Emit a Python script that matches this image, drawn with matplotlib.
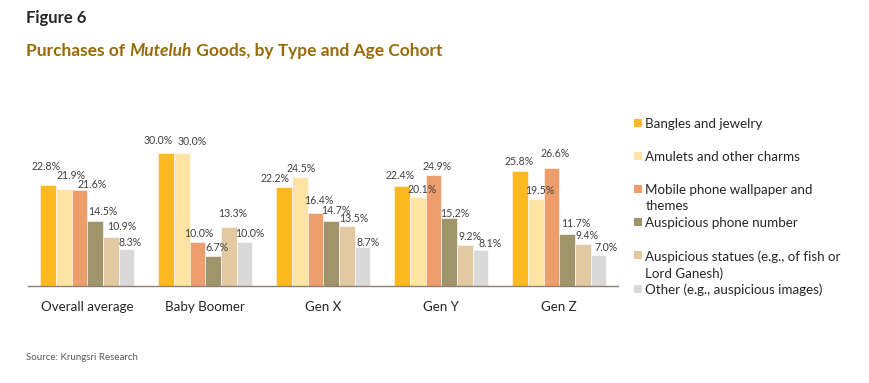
import matplotlib
matplotlib.use("Agg")
import matplotlib.pyplot as plt
from matplotlib.patches import Rectangle
import numpy as np

plt.rcParams['font.family'] = ['Lato', 'DejaVu Sans']

# ---------------- data ----------------
cohorts = ["Overall average", "Baby Boomer", "Gen X", "Gen Y", "Gen Z"]
series_names = [
    "Bangles and jewelry",
    "Amulets and other charms",
    "Mobile phone wallpaper and\nthemes",
    "Auspicious phone number",
    "Auspicious statues (e.g., of fish or\nLord Ganesh)",
    "Other (e.g., auspicious images)",
]
bangles    = [22.8, 30.0, 22.2, 22.4, 25.8]
amulets    = [21.9, 30.0, 24.5, 20.1, 19.5]
wallpaper  = [21.6, 10.0, 16.4, 24.9, 26.6]
phone_num  = [14.5, 6.7, 14.7, 15.2, 11.7]
statues    = [10.9, 13.3, 13.5, 9.2, 9.4]
other      = [8.3, 10.0, 8.7, 8.1, 7.0]
series_values = [bangles, amulets, wallpaper, phone_num, statues, other]

colors = ["#FDBA1E", "#FEE4A4", "#EE9E6C", "#A0956A", "#E2C9A2", "#D9D9D9"]

# label nudges (pixels: dx, dy of label centre above bar top), per series x cohort
label_dx = [
    [-2.3, -7.9, -9.5, -2.2, -0.4],
    [7.2, 10.7, 1.5, 4.8, 3.7],
    [12.6, 1.8, 3.2, 3.5, 3.8],
    [7.5, 4.1, 5.2, 5.5, 9.0],
    [11.2, 3.9, 7.1, 5.3, 3.9],
    [3.8, 5.5, 5.4, 9.4, 7.3],
]
label_dy = [
    [17.7, 11.6, 8.4, 11.0, 10.0],
    [12.6, 10.6, 8.7, 6.6, 8.3],
    [5.7, 8.0, 12.3, 9.0, 14.0],
    [9.7, 8.6, 10.3, 5.0, 10.7],
    [10.7, 13.7, 7.0, 8.3, 8.3],
    [6.3, 8.0, 4.3, 6.0, 7.0],
]

# ---------------- figure ----------------
W, H = 870, 383
fig = plt.figure(figsize=(W / 100, H / 100), dpi=100)

ax_left, ax_right = 28.3, 618.3
base_y = 286.0
px_per_pct = 4.45
ymax = 35
ax_h = ymax * px_per_pct
ax = fig.add_axes([ax_left / W, (H - base_y) / H, (ax_right - ax_left) / W, ax_h / H])

n = len(series_values)
x = np.arange(len(cohorts))
group_px = (ax_right - ax_left) / len(cohorts)
bar_w = 15.7 / group_px

for i, (vals, col) in enumerate(zip(series_values, colors)):
    offs = (i - (n - 1) / 2) * bar_w
    bars = ax.bar(x + offs, vals, width=bar_w, color=col, edgecolor="white",
                  linewidth=0.4, zorder=2)
    for j, b in enumerate(bars):
        ax.annotate(f"{vals[j]:.1f}%",
                    xy=(b.get_x() + b.get_width() / 2, b.get_height()),
                    xytext=(label_dx[i][j], label_dy[i][j]),
                    textcoords="offset pixels", ha="center", va="center",
                    fontsize=7.6, color="#404040")

ax.set_xlim(-0.5, len(cohorts) - 0.5)
ax.set_ylim(0, ymax)
ax.set_xticks(x)
ax.set_xticklabels(cohorts, fontsize=9.6, color="#262626")
ax.tick_params(axis="x", length=0, pad=10.5)
ax.set_yticks([])
for s in ["top", "right", "left"]:
    ax.spines[s].set_visible(False)
ax.spines["bottom"].set_color("#8C7F76")
ax.spines["bottom"].set_linewidth(1.0)
ax.patch.set_alpha(0)

# ---------------- legend (manual) ----------------
leg_y0, leg_step, sq = 123.0, 33.1, 8.0
for k, (name, col) in enumerate(zip(series_names, colors)):
    yc = leg_y0 + k * leg_step
    fig.patches.append(Rectangle((634 / W, (H - yc - sq / 2) / H), sq / W, sq / H,
                                 transform=fig.transFigure, facecolor=col,
                                 edgecolor="none"))
    fig.text(645.5 / W, (H - yc + 5.2) / H, name, ha="left", va="top",
             fontsize=9.6, color="#262626", linespacing=1.45)

# ---------------- titles ----------------
fig.text(26 / W, (H - 18.5) / H, "Figure 6", fontsize=12, fontweight="bold",
         color="#262626", ha="left", va="center")

title_parts = [("Purchases of ", "normal"), ("Muteluh", "italic"),
               (" Goods, by Type and Age Cohort", "normal")]
fig.canvas.draw()
renderer = fig.canvas.get_renderer()
xpos = 26.5
for txt, style in title_parts:
    t = fig.text(xpos / W, (H - 51) / H, txt, fontsize=12.5, fontweight="bold",
                 fontstyle=style, color="#9A6A05", ha="left", va="center")
    bb = t.get_window_extent(renderer=renderer)
    xpos += bb.width

fig.text(26 / W, (H - 358) / H, "Source: Krungsri Research", fontsize=7,
         color="#595959", ha="left", va="center")

fig.savefig("out.png", dpi=100)
